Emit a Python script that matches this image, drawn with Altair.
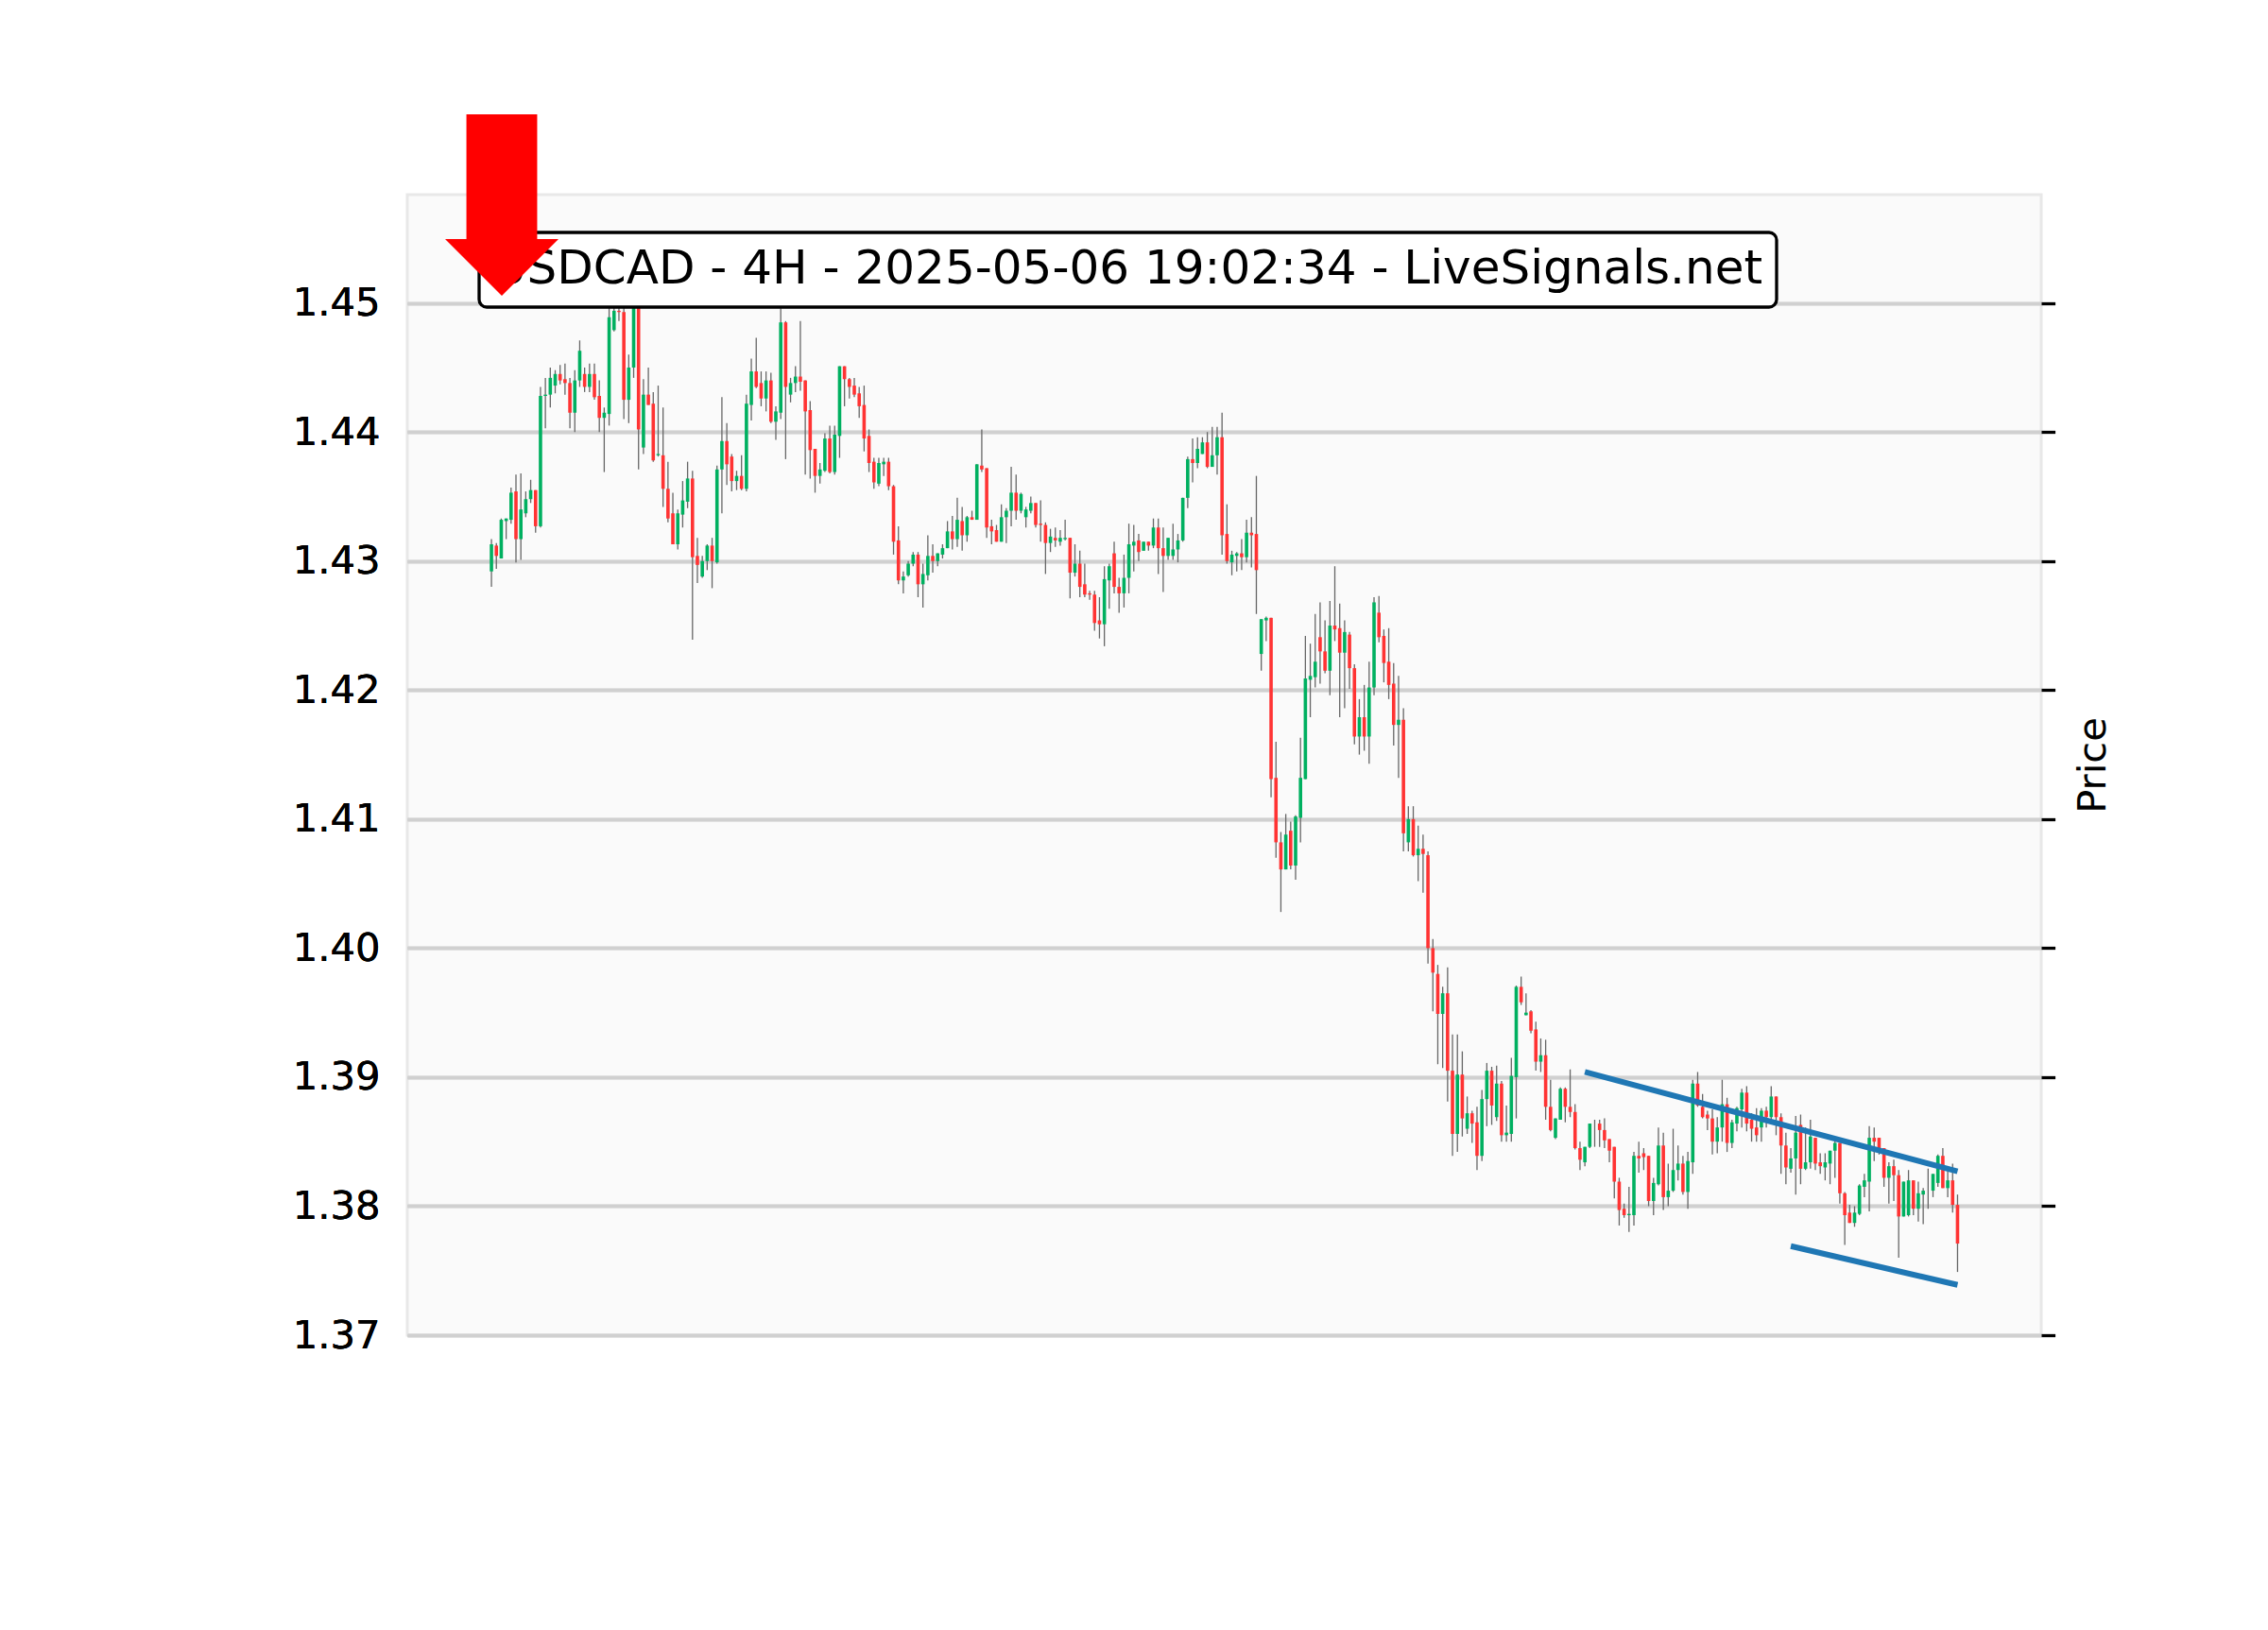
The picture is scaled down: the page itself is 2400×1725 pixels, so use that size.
import altair as alt
import pandas as pd

# ---------------- data ----------------
open_ = [
    1.4292, 1.4312, 1.4302, 1.4331, 1.4332, 1.4354, 1.4317, 1.4337, 1.4348, 1.4355,
    1.4327, 1.4428, 1.4429, 1.4436, 1.4445, 1.4441, 1.4438, 1.4415, 1.4440, 1.4445,
    1.4435, 1.4445, 1.4428, 1.4411, 1.4414, 1.4479, 1.4494, 1.4493, 1.4425, 1.4450,
    1.4508, 1.4388, 1.4429, 1.4422, 1.4382, 1.4382, 1.4356, 1.4337, 1.4313, 1.4336,
    1.4346, 1.4364, 1.4304, 1.4288, 1.4300, 1.4312, 1.4299, 1.4371, 1.4393, 1.4381,
    1.4362, 1.4366, 1.4356, 1.4421, 1.4447, 1.4438, 1.4426, 1.4440, 1.4408, 1.4415,
    1.4485, 1.4429, 1.4438, 1.4443, 1.4440, 1.4417, 1.4387, 1.4366, 1.4370, 1.4395,
    1.4369, 1.4397, 1.4451, 1.4441, 1.4436, 1.4430, 1.4421, 1.4397, 1.4377, 1.4360,
    1.4375, 1.4377, 1.4358, 1.4316, 1.4285, 1.4289, 1.4298, 1.4305, 1.4282, 1.4289,
    1.4304, 1.4300, 1.4305, 1.4310, 1.4323, 1.4317, 1.4331, 1.4320, 1.4334, 1.4332,
    1.4374, 1.4372, 1.4327, 1.4324, 1.4315, 1.4334, 1.4339, 1.4353, 1.4339, 1.4334,
    1.4339, 1.4345, 1.4329, 1.4328, 1.4314, 1.4318, 1.4315, 1.4317, 1.4318, 1.4291,
    1.4298, 1.4282, 1.4275, 1.4274, 1.4254, 1.4251, 1.4285, 1.4306, 1.4280, 1.4275,
    1.4287, 1.4312, 1.4316, 1.4308, 1.4315, 1.4312, 1.4326, 1.4310, 1.4304, 1.4304,
    1.4309, 1.4316, 1.4349, 1.4379, 1.4376, 1.4383, 1.4392, 1.4373, 1.4382, 1.4396,
    1.4321, 1.4299, 1.4304, 1.4306, 1.4303, 1.4322, 1.4321, 1.4228, 1.4254, 1.4256,
    1.4132, 1.4082, 1.4061, 1.4091, 1.4064, 1.4101, 1.4131, 1.4208, 1.4210, 1.4241,
    1.4230, 1.4215, 1.4250, 1.4248, 1.4229, 1.4243, 1.4217, 1.4164, 1.4179, 1.4164,
    1.4202, 1.4260, 1.4242, 1.4222, 1.4205, 1.4173, 1.4177, 1.4082, 1.4100, 1.4072,
    1.4077, 1.4072, 1.4000, 1.3980, 1.3949, 1.3965, 1.3905, 1.3856, 1.3902, 1.3860,
    1.3872, 1.3865, 1.3839, 1.3883, 1.3905, 1.3869, 1.3895, 1.3855, 1.3856, 1.3900,
    1.3970, 1.3948, 1.3951, 1.3937, 1.3912, 1.3917, 1.3877, 1.3853, 1.3867, 1.3891,
    1.3877, 1.3873, 1.3845, 1.3834, 1.3846, 1.3864, 1.3864, 1.3859, 1.3852, 1.3846,
    1.3819, 1.3798, 1.3793, 1.3793, 1.3839, 1.3841, 1.3839, 1.3804, 1.3817, 1.3847,
    1.3807, 1.3812, 1.3828, 1.3833, 1.3811, 1.3834, 1.3895, 1.3877, 1.3871, 1.3868,
    1.3850, 1.3861, 1.3879, 1.3849, 1.3864, 1.3875, 1.3888, 1.3867, 1.3861, 1.3861,
    1.3874, 1.3869, 1.3885, 1.3869, 1.3847, 1.3829, 1.3837, 1.3863, 1.3829, 1.3834,
    1.3853, 1.3834, 1.3830, 1.3833, 1.3843, 1.3849, 1.3810, 1.3795, 1.3787, 1.3794,
    1.3815, 1.3819, 1.3853, 1.3853, 1.3845, 1.3822, 1.3831, 1.3824, 1.3792, 1.3793,
    1.3820, 1.3798, 1.3809, 1.3812, 1.3812, 1.3818, 1.3839, 1.3814, 1.3820, 1.3801,
]
high = [
    1.4317, 1.4314, 1.4333, 1.4333, 1.4357, 1.4367, 1.4368, 1.4354, 1.4363, 1.4355,
    1.4435, 1.4442, 1.4450, 1.4448, 1.4452, 1.4453, 1.4442, 1.4448, 1.4471, 1.4450,
    1.4453, 1.4453, 1.4440, 1.4419, 1.4497, 1.4500, 1.4498, 1.4497, 1.4460, 1.4518,
    1.4514, 1.4441, 1.4450, 1.4431, 1.4436, 1.4419, 1.4377, 1.4353, 1.4340, 1.4362,
    1.4377, 1.4370, 1.4318, 1.4304, 1.4313, 1.4318, 1.4374, 1.4427, 1.4407, 1.4383,
    1.4370, 1.4382, 1.4429, 1.4457, 1.4473, 1.4447, 1.4447, 1.4446, 1.4420, 1.4496,
    1.4486, 1.4442, 1.4451, 1.4486, 1.4440, 1.4424, 1.4387, 1.4376, 1.4399, 1.4405,
    1.4405, 1.4451, 1.4451, 1.4442, 1.4442, 1.4435, 1.4436, 1.4402, 1.4380, 1.4380,
    1.4380, 1.4380, 1.4359, 1.4327, 1.4292, 1.4300, 1.4307, 1.4307, 1.4298, 1.4320,
    1.4313, 1.4306, 1.4313, 1.4331, 1.4335, 1.4349, 1.4342, 1.4335, 1.4339, 1.4375,
    1.4402, 1.4372, 1.4332, 1.4328, 1.4344, 1.4341, 1.4373, 1.4367, 1.4353, 1.4342,
    1.4350, 1.4345, 1.4347, 1.4330, 1.4325, 1.4326, 1.4324, 1.4332, 1.4318, 1.4313,
    1.4308, 1.4298, 1.4277, 1.4277, 1.4272, 1.4296, 1.4298, 1.4315, 1.4287, 1.4305,
    1.4329, 1.4328, 1.4321, 1.4315, 1.4315, 1.4333, 1.4333, 1.4326, 1.4318, 1.4329,
    1.4321, 1.4349, 1.4381, 1.4395, 1.4396, 1.4396, 1.4400, 1.4404, 1.4404, 1.4415,
    1.4344, 1.4308, 1.4307, 1.4317, 1.4332, 1.4334, 1.4366, 1.4255, 1.4257, 1.4256,
    1.4160, 1.4090, 1.4104, 1.4098, 1.4103, 1.4163, 1.4242, 1.4236, 1.4259, 1.4268,
    1.4254, 1.4269, 1.4296, 1.4267, 1.4254, 1.4245, 1.4220, 1.4193, 1.4204, 1.4222,
    1.4272, 1.4273, 1.4247, 1.4248, 1.4221, 1.4211, 1.4186, 1.4110, 1.4110, 1.4095,
    1.4088, 1.4075, 1.4007, 1.3987, 1.3970, 1.3985, 1.3933, 1.3933, 1.3920, 1.3885,
    1.3874, 1.3877, 1.3890, 1.3911, 1.3908, 1.3909, 1.3897, 1.3878, 1.3915, 1.3971,
    1.3978, 1.3965, 1.3952, 1.3943, 1.3930, 1.3929, 1.3898, 1.3868, 1.3892, 1.3892,
    1.3906, 1.3879, 1.3850, 1.3846, 1.3864, 1.3867, 1.3867, 1.3868, 1.3852, 1.3846,
    1.3822, 1.3802, 1.3815, 1.3842, 1.3850, 1.3845, 1.3839, 1.3822, 1.3861, 1.3857,
    1.3833, 1.3860, 1.3847, 1.3839, 1.3842, 1.3898, 1.3904, 1.3887, 1.3874, 1.3875,
    1.3869, 1.3898, 1.3884, 1.3867, 1.3877, 1.3891, 1.3893, 1.3872, 1.3876, 1.3876,
    1.3877, 1.3893, 1.3885, 1.3872, 1.3857, 1.3845, 1.3870, 1.3871, 1.3861, 1.3867,
    1.3853, 1.3841, 1.3841, 1.3843, 1.3852, 1.3849, 1.3811, 1.3801, 1.3800, 1.3817,
    1.3825, 1.3862, 1.3861, 1.3853, 1.3845, 1.3834, 1.3836, 1.3828, 1.3819, 1.3828,
    1.3820, 1.3819, 1.3814, 1.3829, 1.3825, 1.3840, 1.3845, 1.3827, 1.3833, 1.3809,
]
low = [
    1.4280, 1.4294, 1.4302, 1.4317, 1.4329, 1.4299, 1.4301, 1.4334, 1.4345, 1.4322,
    1.4326, 1.4403, 1.4419, 1.4430, 1.4437, 1.4429, 1.4403, 1.4400, 1.4435, 1.4431,
    1.4431, 1.4425, 1.4400, 1.4369, 1.4405, 1.4478, 1.4486, 1.4410, 1.4407, 1.4442,
    1.4371, 1.4383, 1.4421, 1.4377, 1.4381, 1.4342, 1.4330, 1.4313, 1.4309, 1.4326,
    1.4341, 1.4239, 1.4283, 1.4287, 1.4293, 1.4279, 1.4298, 1.4337, 1.4359, 1.4354,
    1.4355, 1.4355, 1.4354, 1.4409, 1.4434, 1.4420, 1.4416, 1.4407, 1.4394, 1.4410,
    1.4379, 1.4423, 1.4431, 1.4432, 1.4367, 1.4364, 1.4353, 1.4360, 1.4369, 1.4368,
    1.4367, 1.4380, 1.4420, 1.4426, 1.4427, 1.4411, 1.4385, 1.4369, 1.4356, 1.4358,
    1.4366, 1.4355, 1.4305, 1.4282, 1.4275, 1.4288, 1.4296, 1.4272, 1.4264, 1.4285,
    1.4291, 1.4296, 1.4302, 1.4310, 1.4309, 1.4311, 1.4308, 1.4315, 1.4332, 1.4332,
    1.4369, 1.4318, 1.4313, 1.4315, 1.4315, 1.4314, 1.4327, 1.4332, 1.4337, 1.4326,
    1.4337, 1.4326, 1.4315, 1.4290, 1.4307, 1.4311, 1.4312, 1.4316, 1.4271, 1.4288,
    1.4272, 1.4272, 1.4270, 1.4246, 1.4240, 1.4234, 1.4263, 1.4275, 1.4260, 1.4264,
    1.4275, 1.4292, 1.4300, 1.4308, 1.4308, 1.4310, 1.4290, 1.4276, 1.4301, 1.4301,
    1.4299, 1.4315, 1.4341, 1.4361, 1.4372, 1.4383, 1.4372, 1.4373, 1.4367, 1.4305,
    1.4298, 1.4289, 1.4292, 1.4293, 1.4299, 1.4295, 1.4259, 1.4215, 1.4238, 1.4117,
    1.4070, 1.4028, 1.4061, 1.4061, 1.4053, 1.4082, 1.4131, 1.4179, 1.4202, 1.4205,
    1.4213, 1.4196, 1.4238, 1.4179, 1.4186, 1.4201, 1.4158, 1.4150, 1.4153, 1.4143,
    1.4196, 1.4237, 1.4206, 1.4193, 1.4157, 1.4132, 1.4075, 1.4075, 1.4071, 1.4052,
    1.4043, 1.3988, 1.3951, 1.3910, 1.3907, 1.3881, 1.3839, 1.3842, 1.3854, 1.3856,
    1.3849, 1.3828, 1.3835, 1.3862, 1.3863, 1.3866, 1.3850, 1.3850, 1.3850, 1.3868,
    1.3956, 1.3948, 1.3934, 1.3905, 1.3904, 1.3867, 1.3858, 1.3852, 1.3867, 1.3865,
    1.3869, 1.3844, 1.3828, 1.3831, 1.3845, 1.3846, 1.3846, 1.3845, 1.3834, 1.3806,
    1.3785, 1.3791, 1.3780, 1.3785, 1.3826, 1.3828, 1.3800, 1.3793, 1.3816, 1.3797,
    1.3800, 1.3811, 1.3820, 1.3809, 1.3798, 1.3825, 1.3877, 1.3868, 1.3859, 1.3840,
    1.3841, 1.3850, 1.3842, 1.3845, 1.3858, 1.3861, 1.3858, 1.3850, 1.3850, 1.3850,
    1.3861, 1.3864, 1.3855, 1.3825, 1.3817, 1.3826, 1.3809, 1.3817, 1.3828, 1.3829,
    1.3828, 1.3825, 1.3820, 1.3817, 1.3822, 1.3802, 1.3770, 1.3787, 1.3784, 1.3793,
    1.3807, 1.3796, 1.3835, 1.3840, 1.3815, 1.3802, 1.3804, 1.3760, 1.3792, 1.3792,
    1.3793, 1.3788, 1.3786, 1.3798, 1.3807, 1.3815, 1.3814, 1.3807, 1.3795, 1.3749,
]
close = [
    1.4313, 1.4304, 1.4332, 1.4333, 1.4353, 1.4317, 1.4340, 1.4348, 1.4355, 1.4327,
    1.4428, 1.4429, 1.4442, 1.4445, 1.4440, 1.4438, 1.4415, 1.4440, 1.4463, 1.4435,
    1.4445, 1.4427, 1.4411, 1.4415, 1.4489, 1.4494, 1.4493, 1.4425, 1.4450, 1.4510,
    1.4402, 1.4429, 1.4421, 1.4378, 1.4383, 1.4356, 1.4333, 1.4313, 1.4337, 1.4347,
    1.4364, 1.4303, 1.4297, 1.4300, 1.4312, 1.4300, 1.4371, 1.4393, 1.4375, 1.4362,
    1.4366, 1.4356, 1.4422, 1.4447, 1.4435, 1.4426, 1.4440, 1.4408, 1.4416, 1.4485,
    1.4435, 1.4438, 1.4443, 1.4439, 1.4416, 1.4386, 1.4366, 1.4371, 1.4395, 1.4369,
    1.4398, 1.4451, 1.4441, 1.4435, 1.4429, 1.4420, 1.4395, 1.4376, 1.4361, 1.4376,
    1.4377, 1.4358, 1.4315, 1.4285, 1.4288, 1.4298, 1.4305, 1.4282, 1.4290, 1.4304,
    1.4300, 1.4306, 1.4310, 1.4323, 1.4317, 1.4332, 1.4320, 1.4334, 1.4332, 1.4375,
    1.4371, 1.4326, 1.4323, 1.4315, 1.4334, 1.4339, 1.4353, 1.4339, 1.4352, 1.4340,
    1.4345, 1.4328, 1.4328, 1.4314, 1.4319, 1.4316, 1.4318, 1.4318, 1.4291, 1.4298,
    1.4280, 1.4274, 1.4274, 1.4252, 1.4251, 1.4286, 1.4296, 1.4280, 1.4275, 1.4287,
    1.4313, 1.4315, 1.4307, 1.4315, 1.4312, 1.4326, 1.4310, 1.4304, 1.4318, 1.4309,
    1.4316, 1.4349, 1.4379, 1.4376, 1.4387, 1.4392, 1.4373, 1.4382, 1.4396, 1.4320,
    1.4300, 1.4305, 1.4306, 1.4303, 1.4322, 1.4320, 1.4293, 1.4255, 1.4256, 1.4131,
    1.4082, 1.4061, 1.4088, 1.4064, 1.4102, 1.4132, 1.4209, 1.4211, 1.4222, 1.4230,
    1.4215, 1.4250, 1.4247, 1.4229, 1.4245, 1.4217, 1.4164, 1.4179, 1.4164, 1.4202,
    1.4268, 1.4241, 1.4221, 1.4204, 1.4173, 1.4177, 1.4089, 1.4100, 1.4072, 1.4077,
    1.4073, 1.4000, 1.3981, 1.3949, 1.3965, 1.3905, 1.3856, 1.3902, 1.3868, 1.3872,
    1.3864, 1.3839, 1.3883, 1.3905, 1.3878, 1.3895, 1.3855, 1.3857, 1.3901, 1.3970,
    1.3958, 1.3950, 1.3936, 1.3912, 1.3917, 1.3877, 1.3859, 1.3868, 1.3891, 1.3877,
    1.3873, 1.3845, 1.3836, 1.3846, 1.3864, 1.3864, 1.3859, 1.3851, 1.3843, 1.3819,
    1.3797, 1.3793, 1.3794, 1.3839, 1.3837, 1.3838, 1.3804, 1.3818, 1.3847, 1.3807,
    1.3812, 1.3828, 1.3833, 1.3811, 1.3835, 1.3895, 1.3878, 1.3869, 1.3868, 1.3850,
    1.3861, 1.3879, 1.3849, 1.3865, 1.3876, 1.3888, 1.3864, 1.3860, 1.3855, 1.3874,
    1.3869, 1.3885, 1.3869, 1.3847, 1.3830, 1.3837, 1.3857, 1.3829, 1.3834, 1.3854,
    1.3833, 1.3831, 1.3834, 1.3843, 1.3849, 1.3810, 1.3793, 1.3787, 1.3795, 1.3816,
    1.3820, 1.3853, 1.3850, 1.3845, 1.3822, 1.3831, 1.3824, 1.3792, 1.3819, 1.3820,
    1.3798, 1.3810, 1.3812, 1.3812, 1.3825, 1.3839, 1.3814, 1.3820, 1.3801, 1.3771,
]

y_ticks = [1.37, 1.38, 1.39, 1.40, 1.41, 1.42, 1.43, 1.44, 1.45]
title_text = "USDCAD - 4H - 2025-05-06 19:02:34 - LiveSignals.net"
axis_title = "Price"

# trend lines (candle index, price)
upper_trend_i = [223, 299]
upper_trend_p = [1.3904, 1.3827]
lower_trend_i = [265, 299]
lower_trend_p = [1.3769, 1.3739]

# ---------------- build tables ----------------
df = pd.DataFrame({
    "i": list(range(len(close))),
    "open": open_, "high": high, "low": low, "close": close,
})
df["dir"] = ["up" if c >= o else "down" for o, c in zip(open_, close)]

trend = pd.DataFrame({
    "i": upper_trend_i + lower_trend_i,
    "p": upper_trend_p + lower_trend_p,
    "line": ["upper"] * len(upper_trend_i) + ["lower"] * len(lower_trend_i),
})

FONT = "DejaVu Sans"
xs = alt.Scale(domain=[-16.2, 315.1], nice=False, zero=False)
ys = alt.Scale(domain=[1.37, 1.4584], nice=False, zero=False)

left_axis = alt.Axis(
    orient="left", values=y_ticks, format=".2f", title=None,
    labelFontSize=41.7, labelFont=FONT, labelColor="#000000", labelPadding=29,
    ticks=False, tickSize=0, domain=False,
    grid=True, gridColor="#d0d0d0", gridWidth=3.3,
)
right_axis = alt.Axis(
    orient="right", values=y_ticks, labels=False, domain=False, grid=False,
    ticks=True, tickSize=14.6, tickWidth=3.3, tickColor="#000000",
    title=axis_title, titleFontSize=41.7, titleFont=FONT, titleColor="#000000",
    titleFontWeight="normal", titleAngle=270, titleBaseline="top", titlePadding=18,
)

base = alt.Chart(df)

wicks = base.mark_rule(color="#666666", strokeWidth=1.3).encode(
    x=alt.X("i:Q", scale=xs, axis=None),
    y=alt.Y("low:Q", scale=ys, axis=left_axis),
    y2="high:Q",
)

bodies = base.mark_bar(size=3.6).encode(
    x=alt.X("i:Q", scale=xs, axis=None),
    y=alt.Y("open:Q", scale=ys, axis=left_axis),
    y2="close:Q",
    color=alt.Color("dir:N", scale=alt.Scale(domain=["up", "down"],
                                              range=["#00b060", "#ff3333"]), legend=None),
)

right = base.mark_rule(opacity=0).encode(
    x=alt.X("i:Q", scale=xs, axis=None),
    y=alt.Y("close:Q", scale=ys, axis=right_axis),
)

lines = alt.Chart(trend).mark_line(color="#1f77b4", strokeWidth=6, strokeCap="butt").encode(
    x=alt.X("i:Q", scale=xs, axis=None),
    y=alt.Y("p:Q", scale=ys, axis=left_axis),
    detail="line:N",
)

label_df = pd.DataFrame({"t": [title_text]})
box = alt.Chart(label_df).mark_rect(
    fill="#ffffff", stroke="#000000", strokeWidth=3.3, cornerRadius=8
).encode(x=alt.value(76), x2=alt.value(1449), y=alt.value(40), y2=alt.value(119))

label = alt.Chart(label_df).mark_text(
    font=FONT, fontSize=50, color="#000000", align="center", baseline="middle"
).encode(x=alt.value(762), y=alt.value(79), text="t:N")

arrow_path = "M-0.39,-1 L0.39,-1 L0.39,0.375 L0.625,0.375 L0,1 L-0.625,0.375 L-0.39,0.375 Z"
arrow = alt.Chart(label_df).mark_point(
    shape=arrow_path, size=192 * 192, filled=True, color="#ff0000",
    opacity=1, strokeWidth=0,
).encode(x=alt.value(100), y=alt.value(11))

chart = alt.layer(wicks, bodies, right, lines, box, label, arrow).resolve_scale(
    y="shared"
).resolve_axis(y="independent").properties(
    width=1729, height=1207,
    autosize=alt.AutoSizeParams(type="none"),
    padding={"left": 423, "top": 198, "right": 120, "bottom": 200},
    background="#ffffff",
).configure_view(
    fill="#fafafa", stroke="#e8e8e8", strokeWidth=3,
)

chart.save("out.html", embed_options={"renderer": "svg", "actions": False})
